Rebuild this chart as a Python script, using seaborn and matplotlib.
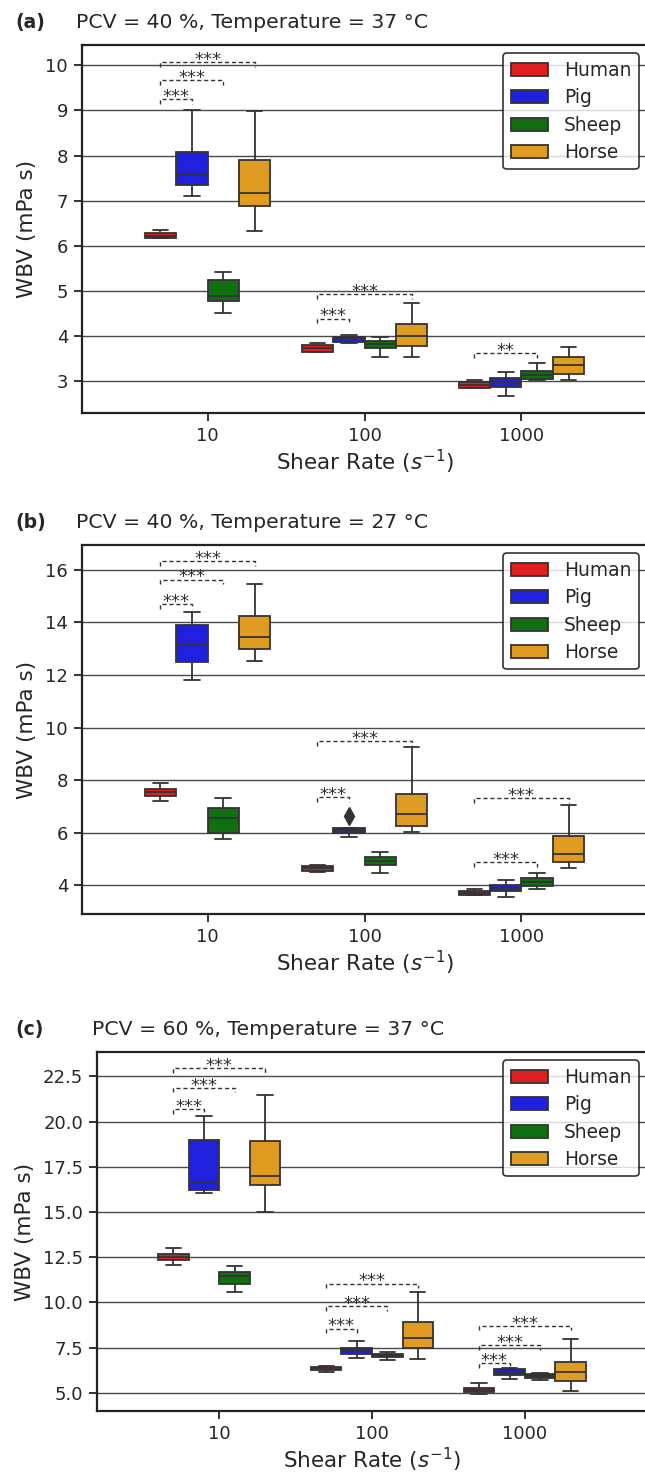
import pandas as pd
import seaborn as sns
import matplotlib.pyplot as plt

sns.set_theme(style="ticks")
plt.rcParams["font.family"] = ["DejaVu Sans"]

shear_rates = ["10", "100", "1000"]
species = ["Human", "Pig", "Sheep", "Horse"]
colors = ["red", "blue", "green", "orange"]

# each box: [low whisker, q1, median, q3, high whisker], one per shear rate
# (a) PCV 40 %, 37 °C
a_human = [[6.17, 6.18, 6.23, 6.29, 6.35], [3.65, 3.66, 3.73, 3.81, 3.86], [2.85, 2.86, 2.93, 2.98, 3.03]]
a_pig = [[7.10, 7.36, 7.58, 8.09, 9.01], [3.85, 3.87, 3.95, 3.99, 4.03], [2.68, 2.88, 2.99, 3.07, 3.21]]
a_sheep = [[4.52, 4.78, 4.89, 5.24, 5.42], [3.53, 3.73, 3.82, 3.90, 3.98], [3.02, 3.05, 3.14, 3.24, 3.40]]
a_horse = [[6.32, 6.89, 7.18, 7.91, 8.98], [3.55, 3.79, 4.01, 4.26, 4.73], [3.04, 3.17, 3.37, 3.55, 3.76]]

# (b) PCV 40 %, 27 °C  (pig at 100 has one outlier)
b_human = [[7.19, 7.40, 7.53, 7.66, 7.87], [4.51, 4.52, 4.64, 4.74, 4.76], [3.62, 3.64, 3.71, 3.78, 3.86]]
b_pig = [[11.80, 12.51, 13.16, 13.92, 14.39], [5.85, 5.97, 6.08, 6.19, 6.62], [3.54, 3.77, 3.90, 3.99, 4.18]]
b_sheep = [[5.75, 5.98, 6.57, 6.93, 7.33], [4.48, 4.75, 4.92, 5.06, 5.25], [3.86, 3.95, 4.11, 4.27, 4.45]]
b_horse = [[12.55, 12.98, 13.46, 14.25, 15.46], [6.02, 6.26, 6.70, 7.48, 9.25], [4.64, 4.87, 5.20, 5.88, 7.05]]

# (c) PCV 60 %, 37 °C
c_human = [[12.08, 12.35, 12.54, 12.68, 13.01], [6.18, 6.29, 6.38, 6.45, 6.49], [4.96, 5.04, 5.16, 5.29, 5.57]]
c_pig = [[16.07, 16.24, 16.61, 18.98, 20.31], [6.91, 7.13, 7.32, 7.46, 7.89], [5.76, 6.00, 6.14, 6.33, 6.36]]
c_sheep = [[10.57, 11.03, 11.49, 11.67, 11.99], [6.82, 6.97, 7.08, 7.15, 7.24], [5.74, 5.81, 5.92, 6.03, 6.12]]
c_horse = [[15.00, 16.48, 17.00, 18.93, 21.50], [6.88, 7.46, 8.01, 8.93, 10.58], [5.13, 5.68, 6.18, 6.71, 7.98]]

# significance vs Human: (shear rate index, species index, bracket height, label)
a_sig = [(0, 1, 9.26, "***"), (0, 2, 9.67, "***"), (0, 3, 10.07, "***"),
         (1, 1, 4.39, "***"), (1, 3, 4.93, "***"), (2, 2, 3.63, "**")]
b_sig = [(0, 1, 14.71, "***"), (0, 2, 15.63, "***"), (0, 3, 16.33, "***"),
         (1, 1, 7.34, "***"), (1, 3, 9.48, "***"), (2, 2, 4.89, "***"), (2, 3, 7.31, "***")]
c_sig = [(0, 1, 20.69, "***"), (0, 2, 21.87, "***"), (0, 3, 22.96, "***"),
         (1, 1, 8.56, "***"), (1, 2, 9.81, "***"), (1, 3, 11.04, "***"),
         (2, 1, 6.64, "***"), (2, 2, 7.63, "***"), (2, 3, 8.71, "***")]


def to_frame(groups):
    rows = []
    for sp, boxes in zip(species, groups):
        for rate, vals in zip(shear_rates, boxes):
            for v in vals:
                rows.append({"shear": rate, "species": sp, "wbv": v})
    return pd.DataFrame(rows)


panels = [
    ("(a)", "PCV = 40 %, Temperature = 37 °C", [a_human, a_pig, a_sheep, a_horse], a_sig,
     (2.3, 10.45), [3, 4, 5, 6, 7, 8, 9, 10], "{:.0f}", [82, 45, 413]),
    ("(b)", "PCV = 40 %, Temperature = 27 °C", [b_human, b_pig, b_sheep, b_horse], b_sig,
     (2.9, 16.95), [4, 6, 8, 10, 12, 14, 16], "{:.0f}", [82, 545, 914]),
    ("(c)", "PCV = 60 %, Temperature = 37 °C", [c_human, c_pig, c_sheep, c_horse], c_sig,
     (4.0, 23.85), [5.0, 7.5, 10.0, 12.5, 15.0, 17.5, 20.0, 22.5], "{:.1f}", [97, 1052, 1411]),
]

W, H = 645, 1472
fig = plt.figure(figsize=(W / 100, H / 100), dpi=100)
line_c = "#333333"

for tag, title, groups, sigs, ylim, yticks, fmt, (left, top, bottom) in panels:
    ax = fig.add_axes([left / W, 1 - bottom / H, (647 - left) / W, (bottom - top) / H])
    df = to_frame(groups)
    sns.boxplot(data=df, x="shear", y="wbv", hue="species", order=shear_rates,
                hue_order=species, palette=colors, saturation=0.75, linewidth=1.3,
                linecolor=line_c,
                flierprops=dict(marker="d", markersize=9, markerfacecolor=line_c,
                                markeredgecolor=line_c),
                ax=ax)
    ax.set_xlim(-0.8, 2.8)
    ax.set_ylim(*ylim)
    ax.set_yticks(yticks)
    ax.set_yticklabels([fmt.format(t) for t in yticks])
    ax.yaxis.grid(True, color="#4a4a4a", lw=1)
    ax.set_axisbelow(True)
    for s in ["left", "top", "bottom", "right"]:
        ax.spines[s].set_linewidth(1.6)
        ax.spines[s].set_color("#222222")
    ax.tick_params(axis="both", labelsize=13, length=6, width=1.3, pad=4, color="#222222")
    ax.set_xlabel("Shear Rate ($s^{-1}$)", fontsize=15.5, labelpad=2)
    ax.set_ylabel("WBV (mPa s)", fontsize=15.5, labelpad=6)
    ax.set_title(title, loc="left", fontsize=14.7, pad=12, x=-0.01)
    fig.text(15 / W, 1 - top / H + 17 / H, tag, fontsize=13.5, fontweight="bold", va="baseline")

    leg = ax.legend(loc="upper right", fontsize=13.4, frameon=True, fancybox=True,
                    handlelength=2.0, handleheight=0.7, handletextpad=0.85,
                    labelspacing=0.45, borderaxespad=0.45)
    leg.get_frame().set_edgecolor("black")
    leg.get_frame().set_linewidth(1.2)

    span = ylim[1] - ylim[0]
    h = 0.013 * span
    for rate, sp, y, label in sigs:
        x1 = rate - 0.3
        x2 = rate - 0.3 + 0.2 * sp
        ax.plot([x1, x1, x2, x2], [y - h, y, y, y - h], color=line_c, lw=1,
                linestyle=(0, (3, 2)))
        ax.annotate(label, ((x1 + x2) / 2, y), xytext=(0, -2), textcoords="offset points",
                    ha="center", va="baseline", fontsize=13, color=line_c)

fig.savefig("out.png", dpi=100)
